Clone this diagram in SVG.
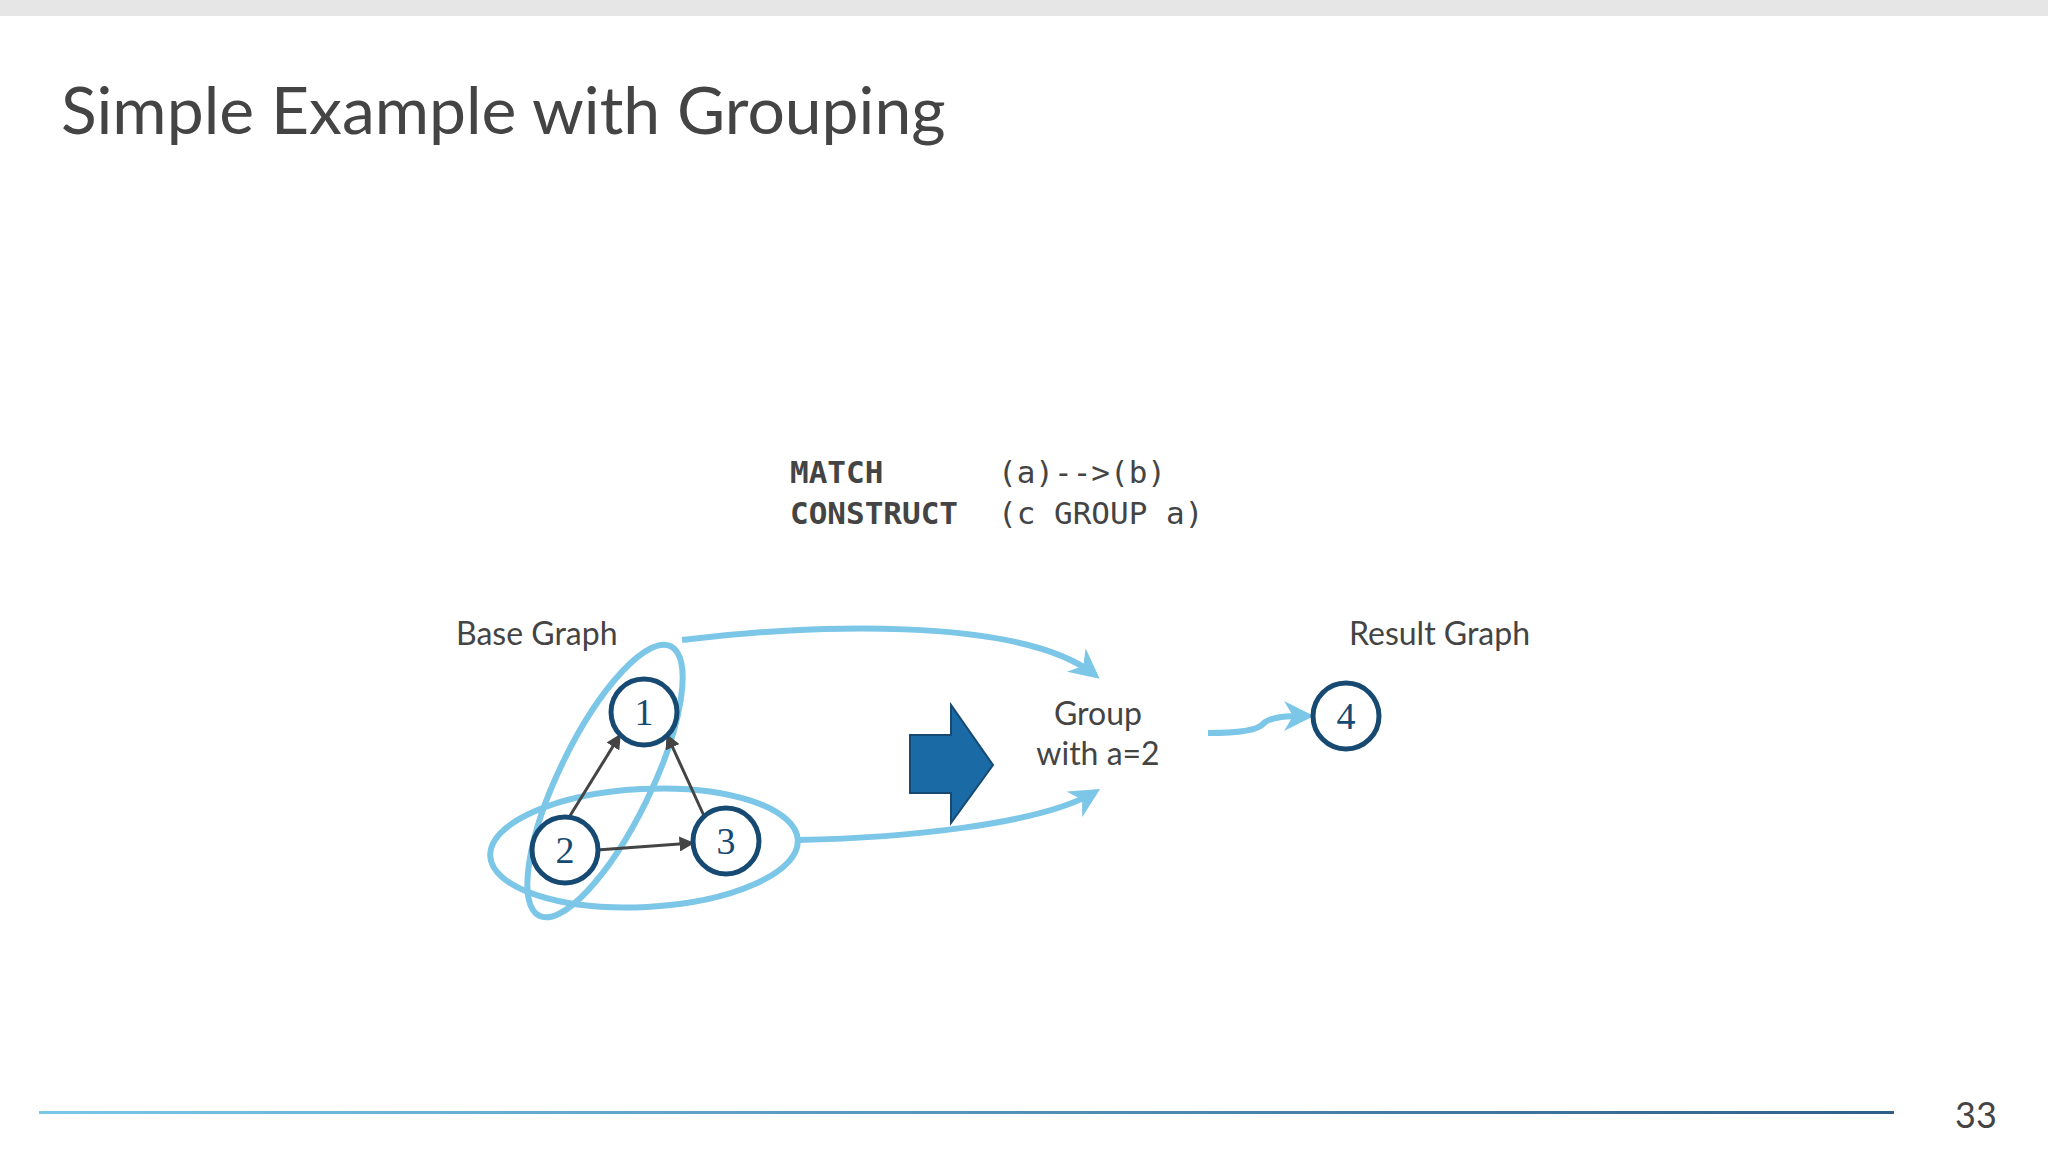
<svg xmlns="http://www.w3.org/2000/svg" width="2048" height="1152" viewBox="0 0 2048 1152">
<defs>
<style>
.t{font-family:Lato,"Open Sans",sans-serif;fill:#444}
.m{font-family:"DejaVu Sans Mono","Liberation Mono",monospace;fill:#444;font-size:31px}
.n{fill:#fff;stroke:#174a73;stroke-width:5}
.nt{font-family:"Liberation Serif",serif;font-size:38px;fill:#174a73;text-anchor:middle}
.e{fill:none;stroke:#7cc6e8;stroke-width:6}
.k{fill:none;stroke:#444;stroke-width:3;marker-end:url(#ak)}
.b{fill:none;stroke:#7cc6e8;stroke-width:6;marker-end:url(#ab)}
</style>
<marker id="ak" viewBox="0 0 10 10" refX="9" refY="5" markerWidth="5" markerHeight="5" orient="auto"><path d="M0,0L10,5L0,10z" fill="#444"/></marker>
<marker id="ab" viewBox="0 0 10 10" refX="8" refY="5" markerWidth="5" markerHeight="5" orient="auto"><path d="M0,0L10,5L0,10L3,5z" fill="#7cc6e8"/></marker>
<linearGradient id="g" x1="0" x2="1"><stop offset="0" stop-color="#7cc6e8"/><stop offset="1" stop-color="#2f5f88"/></linearGradient>
</defs>
<rect width="2048" height="1152" fill="#fff"/>
<rect width="2048" height="16" fill="#e6e6e6"/>
<text class="t" x="61" y="134" font-size="66">Simple Example with Grouping</text>
<text class="m" x="790" y="483" font-weight="bold">MATCH</text>
<text class="m" x="998" y="483">(a)--&gt;(b)</text>
<text class="m" x="790" y="524" font-weight="bold">CONSTRUCT</text>
<text class="m" x="998" y="524">(c GROUP a)</text>
<text class="t" x="456" y="645" font-size="32">Base Graph</text>
<text class="t" x="1349" y="645" font-size="32">Result Graph</text>
<g id="ellipses">
<ellipse class="e" cx="605" cy="781" rx="46" ry="150" transform="rotate(26 605 781)"/>
<ellipse class="e" cx="644" cy="848" rx="154" ry="59" transform="rotate(-3 644 848)"/>
</g>
<g id="connectors">
<path class="k" d="M568,819L620,735"/>
<path class="k" d="M705,818L667,735"/>
<path class="k" d="M597,850L693,843"/>
<path class="b" d="M682,640C800,625 1020,615 1095,675"/>
<path class="b" d="M798,840C900,838 1040,825 1095,792"/>
<path class="b" d="M1208,733C1240,733 1258,730 1263,724C1270,716 1290,716 1308,716"/>
</g>
<g id="n1"><circle class="n" cx="644" cy="712" r="33"/><text class="nt" x="644" y="725">1</text></g>
<g id="n2"><circle class="n" cx="565" cy="850" r="33"/><text class="nt" x="565" y="863">2</text></g>
<g id="n3"><circle class="n" cx="726" cy="841" r="33"/><text class="nt" x="726" y="854">3</text></g>
<g id="n4"><circle class="n" cx="1346" cy="716" r="33"/><text class="nt" x="1346" y="729">4</text></g>
<g id="bigarrow"><path d="M910,735H951V705L993,765L951,823V793H910z" fill="#1a6aa5" stroke="#174a73" stroke-width="2"/></g>
<g id="group"><text class="t" font-size="32" text-anchor="middle"><tspan x="1098" y="725">Group</tspan><tspan x="1098" y="765">with a=2</tspan></text></g>
<rect x="39" y="1111" width="1855" height="3" fill="url(#g)"/>
<text class="t" x="1955" y="1128" font-size="36">33</text>
</svg>
